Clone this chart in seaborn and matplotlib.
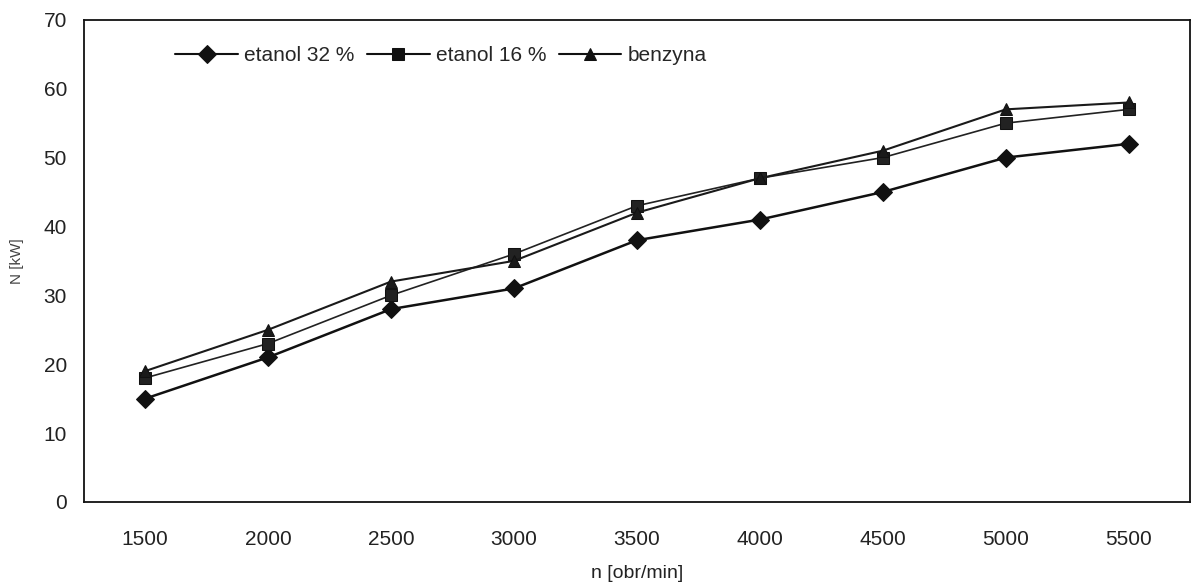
import matplotlib
matplotlib.use("Agg")
import matplotlib.pyplot as plt
import seaborn as sns
import pandas as pd

rpm = ["1500", "2000", "2500", "3000", "3500", "4000", "4500", "5000", "5500"]
etanol32 = [15, 21, 28, 31, 38, 41, 45, 50, 52]
etanol16 = [18, 23, 30, 36, 43, 47, 50, 55, 57]
benzyna = [19, 25, 32, 35, 42, 47, 51, 57, 58]
series_names = ["etanol 32 %", "etanol 16 %", "benzyna"]

sns.set_theme(style="white")
plt.rcParams['font.family'] = ['Liberation Sans', 'DejaVu Sans']

df = pd.DataFrame({
    "n": rpm * 3,
    "N": etanol32 + etanol16 + benzyna,
    "series": [series_names[0]] * 9 + [series_names[1]] * 9 + [series_names[2]] * 9,
})

fig = plt.figure(figsize=(11.95, 5.83), dpi=100)
ax = fig.add_axes([0.070, 0.139, 0.926, 0.827])

sns.lineplot(data=df, x="n", y="N", hue="series", style="series",
             palette=["#111111", "#222222", "#1a1a1a"],
             markers=["D", "s", "^"], dashes=False, markersize=9,
             markeredgecolor="#111111", linewidth=1.5, sort=False, ax=ax)

for line, lw in zip(ax.lines, [1.8, 1.2, 1.5]):
    line.set_linewidth(lw)

ax.set_ylim(0, 70)
ax.set_xlim(-0.5, 8.5)
ax.set_yticks(range(0, 71, 10))
ax.set_xlabel("n [obr/min]", fontsize=14, color="#222222", labelpad=12)
ax.set_ylabel("N [kW]", fontsize=11, color="#444444", labelpad=14)
ax.tick_params(axis="both", labelsize=15, colors="#222222", length=0)
ax.tick_params(axis="x", pad=20)
ax.tick_params(axis="y", pad=12)
for s in ax.spines.values():
    s.set_color("#111111")
    s.set_linewidth(1.3)

leg = ax.legend(loc="upper left", bbox_to_anchor=(0.066, 0.985), ncol=3, frameon=False,
                fontsize=15, handlelength=3.0, columnspacing=0.6, handletextpad=0.3)
for h in leg.legend_handles:
    h.set_color("#111111")

fig.savefig("out.png", dpi=100)
